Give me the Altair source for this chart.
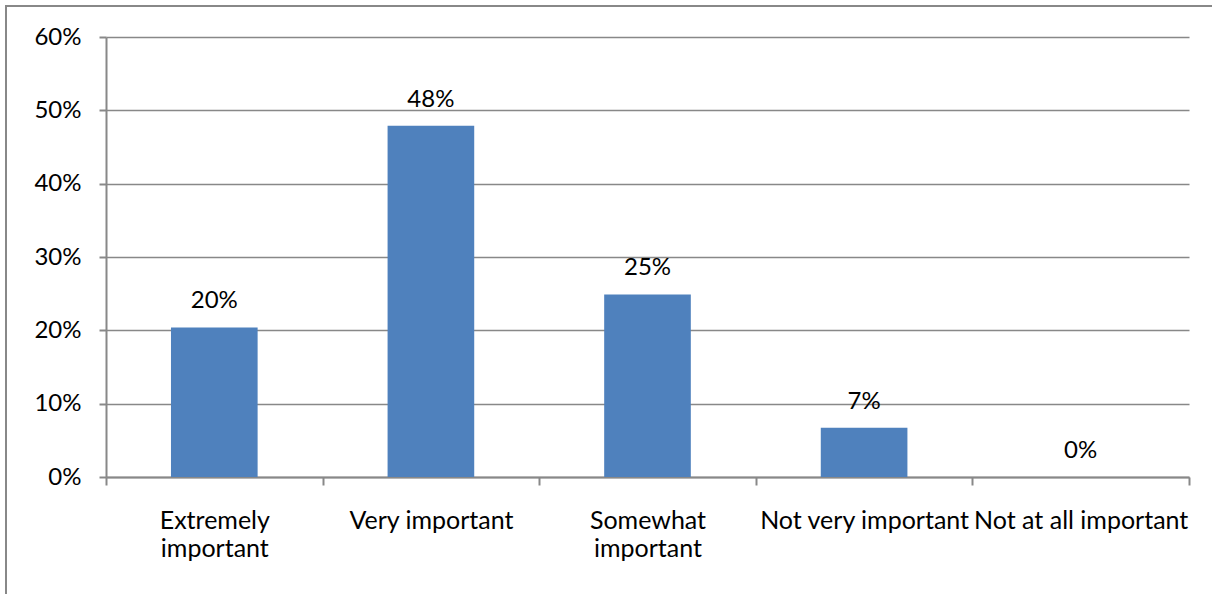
import altair as alt
import pandas as pd

categories = ["Extremely\nimportant", "Very important", "Somewhat\nimportant",
              "Not very important", "Not at all important"]
values = [0.204, 0.479, 0.249, 0.067, 0.0]

df = pd.DataFrame({"category": categories, "value": values})

FONT = "Lato"
GRAY = "#888888"

x_enc = alt.X(
    "category:N",
    sort=categories,
    title=None,
    scale=alt.Scale(paddingInner=0, paddingOuter=0),
    axis=alt.Axis(
        labelAngle=0,
        labelBaseline="top",
        labelPadding=23,
        labelLineHeight=28,
        labelFontSize=25,
        labelLimit=0,
        labelExpr="split(datum.label, '\\n')",
        tickBand="extent",
        tickSize=8,
        grid=False,
    ),
)

y_enc = alt.Y(
    "value:Q",
    title=None,
    scale=alt.Scale(domain=[0, 0.6], nice=False),
    axis=alt.Axis(
        values=[0, 0.1, 0.2, 0.3, 0.4, 0.5, 0.6],
        format=".0%",
        tickSize=7,
        labelPadding=18,
        labelFontSize=24,
        grid=True,
    ),
)

bars = alt.Chart(df).mark_bar(color="#4F81BD", width={"band": 0.4}).encode(
    x=x_enc, y=y_enc
)

labels = alt.Chart(df).mark_text(
    baseline="alphabetic", dy=-19, font=FONT, fontSize=24, color="#000000"
).encode(
    x=alt.X("category:N", sort=categories),
    y=alt.Y("value:Q"),
    text=alt.Text("value:Q", format=".0%"),
)

frame = alt.Chart(pd.DataFrame({"a": [0]})).mark_rect(
    filled=False, stroke=GRAY, strokeWidth=2
).encode(
    x=alt.value(-100), x2=alt.value(1200), y=alt.value(-31), y2=alt.value(600)
)

chart = (
    alt.layer(frame, bars, labels)
    .properties(
        width=1083,
        height=440,
        autosize=alt.AutoSizeParams(type="none"),
        padding={"left": 106, "top": 37, "right": 23, "bottom": 117},
        background="#ffffff",
    )
    .configure_view(stroke=None)
    .configure_axis(
        labelFont=FONT,
        labelColor="#000000",
        domainColor=GRAY,
        domainWidth=2,
        tickColor=GRAY,
        tickWidth=2,
        gridColor=GRAY,
        gridWidth=1.5,
    )
)

chart.save("out.html", embed_options={"renderer": "svg", "actions": False})
